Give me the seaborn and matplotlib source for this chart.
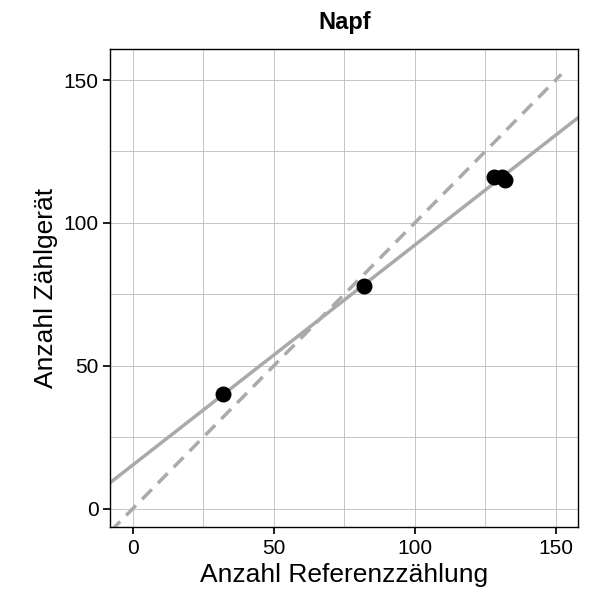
import numpy as np
import pandas as pd
import matplotlib
matplotlib.use("Agg")
import matplotlib.pyplot as plt
import seaborn as sns

# data
referenz = [32, 82, 128, 131, 132]
geraet = [40, 78, 116, 116, 115]
ticks = [0, 50, 100, 150]
minor = [25, 75, 125]

df = pd.DataFrame({"ref": referenz, "ger": geraet})

sns.set_theme(style="white")
plt.rcParams["font.family"] = ["Liberation Sans", "DejaVu Sans"]
plt.rcParams["text.color"] = "black"
plt.rcParams["axes.labelcolor"] = "black"
plt.rcParams["xtick.color"] = "black"
plt.rcParams["ytick.color"] = "black"

fig, ax = plt.subplots(figsize=(5.9, 6.08), dpi=100)
ax.set_xlim(-8, 158)
ax.set_ylim(-6.5, 161)

for t in ticks + minor:
    ax.axvline(t, color="#bbbbbb", lw=0.6, zorder=0)
    ax.axhline(t, color="#bbbbbb", lw=0.6, zorder=0)

ax.plot([-8, 152], [-8, 152], color="#aaaaaa", lw=2.5, ls=(0, (4, 2.5)), zorder=1)
sns.regplot(data=df, x="ref", y="ger", ci=None, truncate=False, ax=ax,
            scatter_kws=dict(color="black", s=110, zorder=3, alpha=1),
            line_kws=dict(color="#aaaaaa", lw=2.5, zorder=2))

ax.set_xticks(ticks)
ax.set_yticks(ticks)
ax.tick_params(labelsize=15, length=5, color="black", direction="out", bottom=True, left=True)
for s in ax.spines.values():
    s.set_color("black")
    s.set_linewidth(1)
ax.set_xlabel("Anzahl Referenzzählung", fontsize=19, color="black")
ax.set_ylabel("Anzahl Zählgerät", fontsize=19, color="black")
ax.set_title("Napf", fontsize=17, fontweight="bold", pad=14, color="black")

fig.subplots_adjust(left=0.187, right=0.98, bottom=0.133, top=0.92)
fig.savefig("out.png", dpi=100)
